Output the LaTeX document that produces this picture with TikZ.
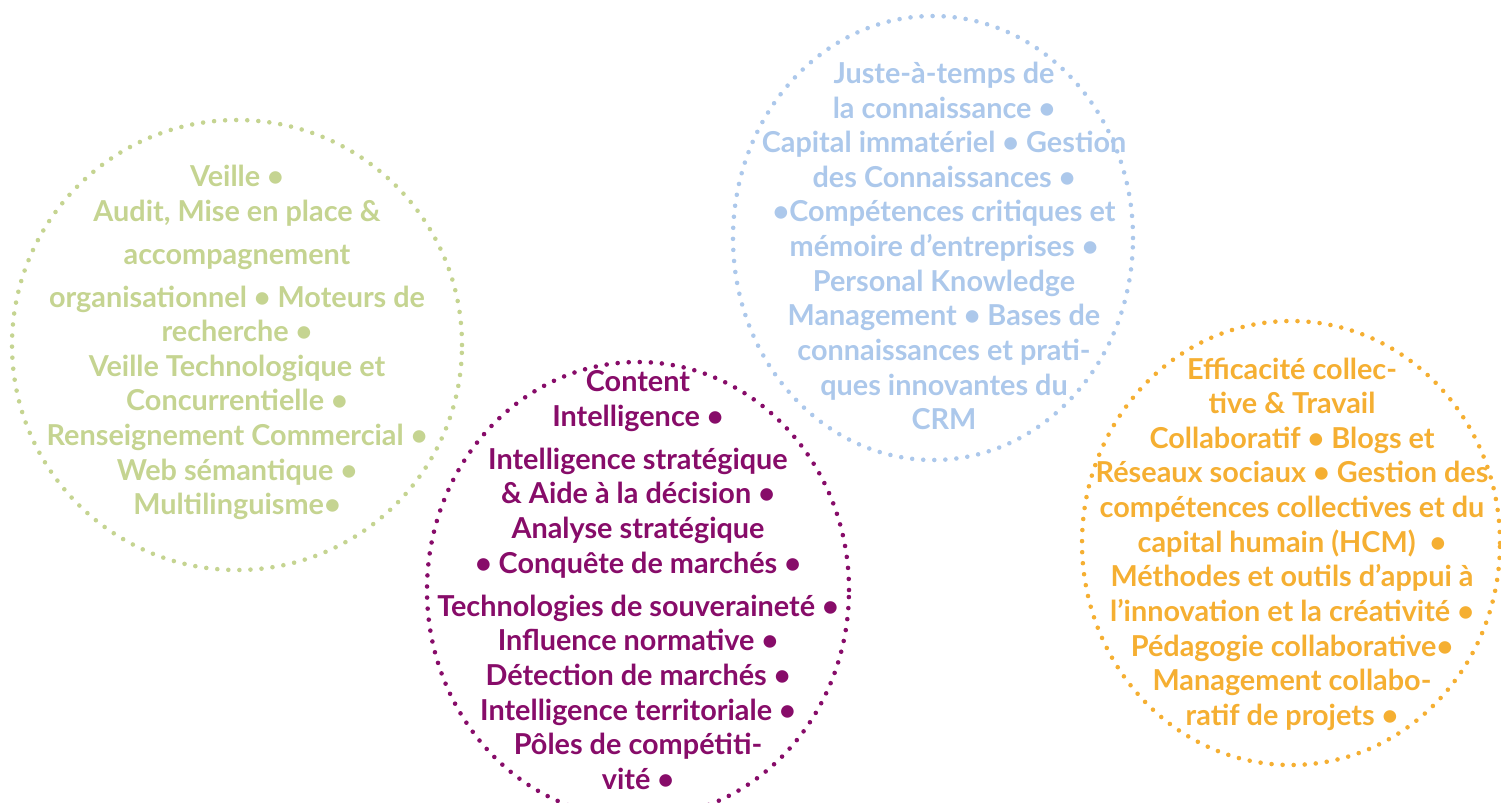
\documentclass[tikz,border=0pt]{standalone}
\usepackage{fontspec}
\setmainfont{Lato}
\definecolor{vertveille}{RGB}{197,212,145}
\definecolor{violetci}{RGB}{135,12,105}
\definecolor{bleukm}{RGB}{172,200,235}
\definecolor{orangecollab}{RGB}{245,175,50}

\begin{document}
\begin{tikzpicture}[
    bulle/.style={line width=2.6pt, line cap=round, dash pattern=on 0pt off 6.3pt},
    texte/.style={align=center, font=\fontsize{16.4}{19.7}\selectfont\bfseries}
  ]
    \useasboundingbox (0,0) rectangle (30.02,-16.04);
    % Veille
    \begin{scope}[shift={(4.74,-6.9)}]
      \draw [bulle, vertveille] (0,0) ellipse (4.5 and 4.5);
      \node[texte, text=vertveille] (veille) at (0,0.05){Veille •\\
        Audit, Mise en place \&\\[4.8pt]
        accompagnement\\[4.8pt]
        organisationnel • Moteurs de\\
        recherche •\\
        Veille Technologique et\\
        Concurrentielle •\\
        Renseignement Commercial •\\
        Web sémantique •\\
        Multilinguisme•};
    \end{scope}
    % Intelligence strategique
    \begin{scope}[shift={(12.76,-11.8)}]
      \draw [bulle, violetci] (0,0) ellipse (4.22 and 4.56);
      \node[texte, text=violetci] (ci) at (0,0.2){Content\\
        Intelligence •\\[4.8pt]
        Intelligence stratégique\\
        \& Aide à la décision •\\
        Analyse stratégique\\
        • Conquête de marchés •\\[4.8pt]
        Technologies de souveraineté •\\
        Influence normative •\\
        Détection de marchés •\\
        Intelligence territoriale •\\
        Pôles de compétiti-\\
        vité •};
    \end{scope}
    % Gestion des connaissances
    \begin{scope}[shift={(18.66,-4.76)}]
      \draw [bulle, bleukm] (0,0) ellipse (4.0 and 4.44);
      \node[texte, text=bleukm] (km) at (0.22,-0.16){Juste-à-temps de\\
        la connaissance •\\
        Capital immatériel • Gestion\\
        des Connaissances •\\
        •Compétences critiques et\\
        mémoire d’entreprises •\\
        Personal Knowledge\\
        Management • Bases de\\
        connaissances et prati-\\
        ques innovantes du\\
        CRM};
    \end{scope}
    % Travail collaboratif
    \begin{scope}[shift={(25.82,-10.86)}]
      \draw [bulle, orangecollab] (0,0) ellipse (4.18 and 4.44);
      \node[texte, text=orangecollab] (collab) at (0.02,-0.02){Efficacité collec-\\
        tive \& Travail\\
        Collaboratif • Blogs et\\
        Réseaux sociaux • Gestion des\\
        compétences collectives et du\\
        capital humain (HCM) ~•\\
        Méthodes et outils d’appui à\\
        l’innovation et la créativité •\\
        Pédagogie collaborative•\\
        Management collabo-\\
        ratif de projets •};
    \end{scope}
  \end{tikzpicture}
\end{document}
